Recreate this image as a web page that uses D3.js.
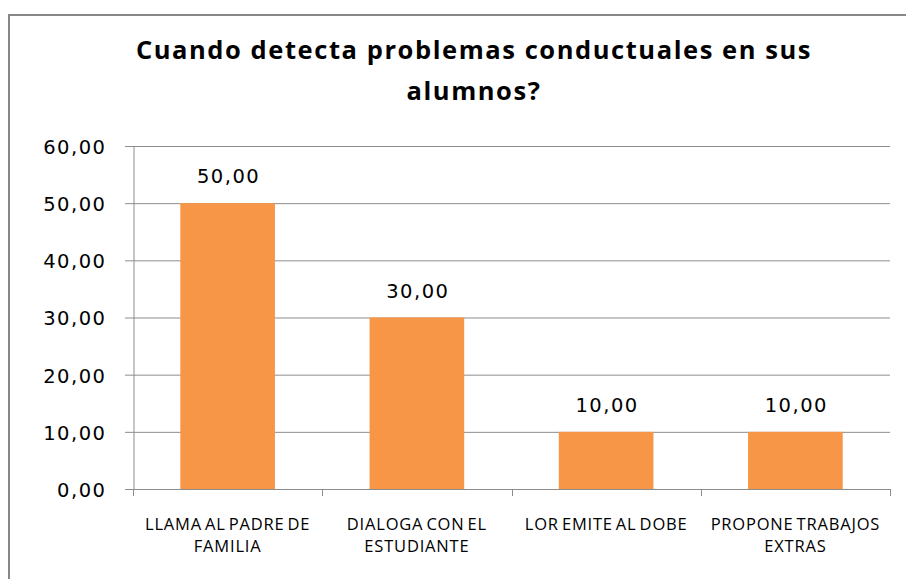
<!DOCTYPE html>
<html>
<head>
<meta charset="utf-8">
<script src="https://cdn.jsdelivr.net/npm/d3@7"></script>
<style>
  html, body { margin: 0; padding: 0; background: #fff; }
  svg { display: block; }
</style>
</head>
<body>
<script>
const categories = [["LLAMA AL PADRE DE", "FAMILIA"], ["DIALOGA CON EL", "ESTUDIANTE"], ["LOR EMITE AL DOBE"], ["PROPONE TRABAJOS", "EXTRAS"]];
const values = [50, 30, 10, 10];
const yTicks = [0, 10, 20, 30, 40, 50, 60];
const titleLines = ["Cuando detecta problemas conductuales en sus", "alumnos?"];

const W = 906, H = 579;
const font = "'Open Sans', sans-serif";
const numFont = "'DejaVu Sans', sans-serif";
const fmt = v => d3.format(".2f")(v).replace(".", ",");

const svg = d3.select("body").append("svg").attr("width", W).attr("height", H);

// chart border
svg.append("path")
  .attr("d", `M9,${H + 5} L9,15 L${W + 5},15`)
  .attr("fill", "none").attr("stroke", "#878787").attr("stroke-width", 2);

const x = d3.scaleBand().domain(d3.range(categories.length))
  .range([133, 890]).paddingInner(0.5).paddingOuter(0.25);
const y = d3.scaleLinear().domain([0, 60]).range([489, 146]);

// gridlines
svg.append("g").selectAll("line").data(yTicks).join("line")
  .attr("x1", 125).attr("x2", 890)
  .attr("y1", d => y(d) + 0.5).attr("y2", d => y(d) + 0.5)
  .attr("stroke", "#8c8c8c").attr("stroke-width", 1);

// y axis
const yAxis = d3.axisLeft(y).tickValues(yTicks).tickFormat(fmt).tickSize(0).tickPadding(27);
const gy = svg.append("g").attr("transform", "translate(133.5,0)").call(yAxis);
gy.select(".domain").attr("stroke", "#8c8c8c");
gy.selectAll("text").attr("font-family", numFont).attr("font-size", 19.5)
  .attr("letter-spacing", 1.5).attr("dy", "0.38em").attr("fill", "#000");

// bars
svg.append("g").selectAll("rect").data(values).join("rect")
  .attr("x", (d, i) => x(i)).attr("width", x.bandwidth())
  .attr("y", d => y(d)).attr("height", d => y(0) - y(d))
  .attr("fill", "#F79646");

// x axis
const xb = d3.scaleLinear().domain([0, categories.length]).range([133, 890]);
const gx = svg.append("g");
gx.append("line").attr("x1", 133).attr("x2", 890).attr("y1", 489.5).attr("y2", 489.5).attr("stroke", "#8c8c8c");
gx.selectAll("line.tk").data(d3.range(categories.length + 1)).join("line").attr("class", "tk")
  .attr("x1", d => Math.round(xb(d)) + 0.5).attr("x2", d => Math.round(xb(d)) + 0.5)
  .attr("y1", 489).attr("y2", 496).attr("stroke", "#8c8c8c");

// category labels
categories.forEach((lines, i) => {
  const t = svg.append("text").attr("text-anchor", "middle")
    .attr("font-family", font).attr("font-size", 16.5).attr("word-spacing", -2)
    .attr("letter-spacing", 0.8).attr("fill", "#000");
  lines.forEach((l, j) => {
    t.append("tspan").attr("x", x(i) + x.bandwidth() / 2).attr("y", 530 + j * 22).text(l);
  });
});

// data labels
svg.append("g").selectAll("text").data(values).join("text")
  .attr("x", (d, i) => x(i) + x.bandwidth() / 2 + 1)
  .attr("y", d => y(d) - 20)
  .attr("text-anchor", "middle")
  .attr("font-family", numFont).attr("font-size", 19.5).attr("letter-spacing", 1.5).attr("fill", "#000")
  .text(fmt);

// title
const title = svg.append("text").attr("text-anchor", "middle")
  .attr("font-family", font).attr("font-size", 25.5).attr("font-weight", "bold").attr("fill", "#000");
title.selectAll("tspan").data(titleLines).join("tspan")
  .attr("x", 474).attr("y", (d, i) => 59 + i * 41).text(d => d);
// fit first title line to the reference width by letter spacing
const first = title.select("tspan").node();
const len = first.getComputedTextLength();
const ls = Math.max(0, (676 - len) / titleLines[0].length);
title.attr("letter-spacing", ls.toFixed(2));
</script>
</body>
</html>
